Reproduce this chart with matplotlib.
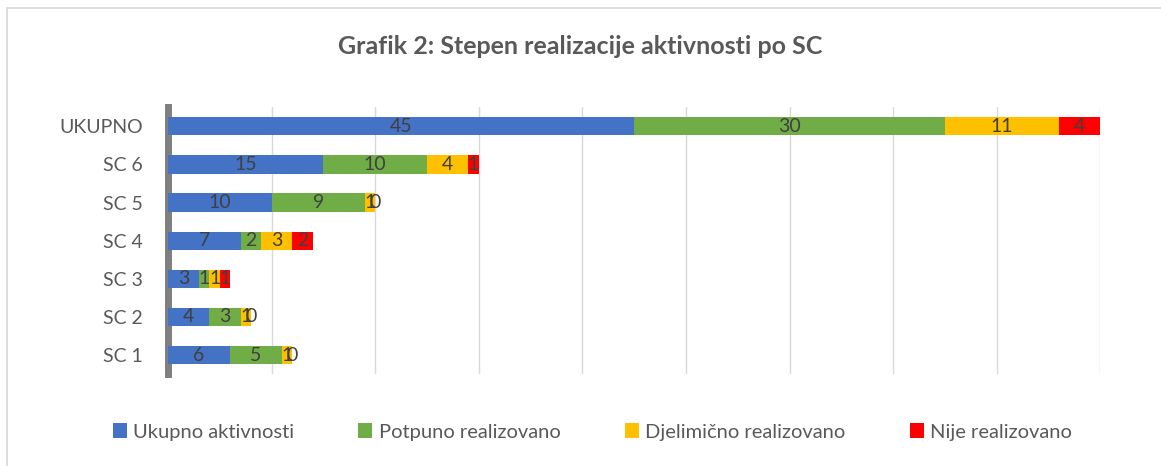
import numpy as np
import matplotlib.pyplot as plt
from matplotlib.patches import Rectangle

plt.rcParams['font.family'] = ['Lato', 'DejaVu Sans']

categories = ['UKUPNO', 'SC 6', 'SC 5', 'SC 4', 'SC 3', 'SC 2', 'SC 1']
ukupno = [45, 15, 10, 7, 3, 4, 6]
potpuno = [30, 10, 9, 2, 1, 3, 5]
djelimicno = [11, 4, 1, 3, 1, 1, 1]
nije = [4, 1, 0, 2, 1, 0, 0]

series = [
    ('Ukupno aktivnosti', ukupno, '#4472C4'),
    ('Potpuno realizovano', potpuno, '#70AD47'),
    ('Djelimično realizovano', djelimicno, '#FFC000'),
    ('Nije realizovano', nije, '#FF0000'),
]

fig = plt.figure(figsize=(11.61, 4.66), dpi=100)
ax = fig.add_axes([0.1447, 0.197, 0.803, 0.573])

y = np.arange(len(categories))
left = np.zeros(len(categories))
for name, vals, col in series:
    bars = ax.barh(y, vals, left=left, height=0.48, color=col, label=name, zorder=3)
    ax.bar_label(bars, labels=[str(v) for v in vals], label_type='center',
                 fontsize=14, color='#404040', zorder=4)
    left = left + np.array(vals)

ax.set_xlim(0, 90)
ax.set_ylim(len(categories) - 0.5, -0.5)
ax.set_yticks(y)
ax.set_yticklabels(categories, fontsize=14, color='#595959')
ax.set_xticks(np.arange(0, 91, 10))
ax.set_xticklabels([])
ax.tick_params(length=0, pad=18)
ax.grid(axis='x', color='#D9D9D9', linewidth=1, zorder=0)
for s in ['top', 'right', 'bottom']:
    ax.spines[s].set_visible(False)
ax.spines['left'].set_color('#7F7F7F')
ax.spines['left'].set_linewidth(5)

fig.suptitle('Grafik 2: Stepen realizacije aktivnosti po SC', y=0.925,
             fontsize=18, fontweight='bold', color='#595959')

fig.legend(loc='center', bbox_to_anchor=(0.51, 0.073), ncol=4, frameon=False,
           fontsize=14.5, handlelength=0.7, handleheight=0.7, handletextpad=0.3,
           columnspacing=3.2, labelcolor='#595959')

fig.patches.append(Rectangle((0.006, -0.1), 1.1, 1.083, transform=fig.transFigure,
                             fill=False, edgecolor='#D9D9D9', linewidth=1.2))

plt.savefig('out.png', dpi=100)
